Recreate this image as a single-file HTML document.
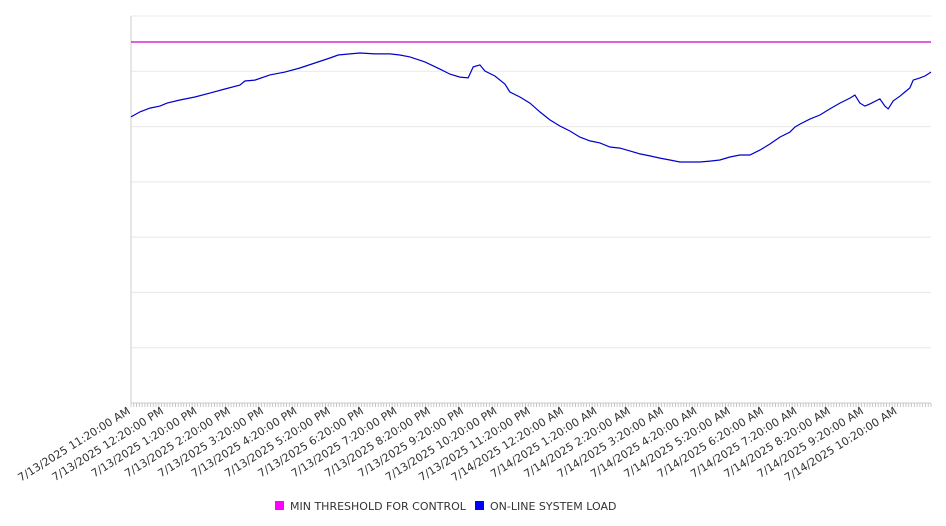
<!DOCTYPE html>
<html><head><meta charset="utf-8"><style>
html,body{margin:0;padding:0;background:#fff;width:946px;height:526px;overflow:hidden}
svg{display:block;font-family:"DejaVu Sans","Liberation Sans",sans-serif}
</style></head><body>
<svg id="chart" width="946" height="526" viewBox="0 0 946 526">
<g id="grid"></g>
<g id="xaxis"></g>
<g id="series"></g>
<g font-size="11" fill="#333">
  <g>
    <rect x="275" y="501" width="9" height="9" fill="#ff00ff"/>
    <text x="290" y="510">MIN THRESHOLD FOR CONTROL</text>
  </g>
  <g>
    <rect x="475" y="501" width="9" height="9" fill="#0000ff"/>
    <text x="490" y="510">ON-LINE SYSTEM LOAD</text>
  </g>
</g>
</svg>
<script>
const tickLabels = ["7/13/2025 11:20:00 AM","7/13/2025 12:20:00 PM","7/13/2025 1:20:00 PM","7/13/2025 2:20:00 PM","7/13/2025 3:20:00 PM","7/13/2025 4:20:00 PM","7/13/2025 5:20:00 PM","7/13/2025 6:20:00 PM","7/13/2025 7:20:00 PM","7/13/2025 8:20:00 PM","7/13/2025 9:20:00 PM","7/13/2025 10:20:00 PM","7/13/2025 11:20:00 PM","7/14/2025 12:20:00 AM","7/14/2025 1:20:00 AM","7/14/2025 2:20:00 AM","7/14/2025 3:20:00 AM","7/14/2025 4:20:00 AM","7/14/2025 5:20:00 AM","7/14/2025 6:20:00 AM","7/14/2025 7:20:00 AM","7/14/2025 8:20:00 AM","7/14/2025 9:20:00 AM","7/14/2025 10:20:00 AM"];
const loadMinutes = [0,16,34,52,65,88,115,142,169,196,205,223,250,277,304,331,358,373,394,412,439,466,484,502,529,556,574,592,607,616,628,637,655,673,682,700,718,736,754,772,790,808,826,844,862,880,898,916,934,952,970,988,1006,1024,1042,1060,1078,1096,1114,1132,1150,1168,1186,1195,1204,1222,1240,1258,1276,1294,1303,1312,1321,1330,1348,1357,1363,1372,1384,1393,1402,1408,1420,1429,1440];
const loadValues = [1035,1053,1067,1074,1085,1096,1107,1121,1136,1150,1165,1168,1187,1197,1212,1230,1248,1259,1263,1266,1263,1263,1259,1252,1234,1208,1190,1179,1176,1216,1223,1201,1183,1154,1125,1107,1085,1053,1024,1002,984,962,948,941,926,922,912,901,894,886,879,872,872,872,875,879,890,897,897,915,937,962,980,998,1009,1027,1042,1064,1085,1103,1114,1085,1074,1082,1100,1074,1064,1093,1110,1125,1140,1168,1176,1183,1197];
const thresholdValue = 1306;
const yMax = 1400, yStep = 200, xMaxMin = 1440;

const L=131,R=931,T=16,B=403, NS="http://www.w3.org/2000/svg";
const xs = m => L + m/xMaxMin*(R-L);
const ys = v => B - v/yMax*(B-T);
function mk(tag, attrs, parent){const e=document.createElementNS(NS,tag);for(const k in attrs)e.setAttribute(k,attrs[k]);parent.appendChild(e);return e;}
const grid=document.getElementById('grid'), xa=document.getElementById('xaxis'), se=document.getElementById('series');
for(let v=yStep; v<=yMax; v+=yStep){
  const g=mk('line',{x1:L,x2:R,y1:ys(v),y2:ys(v),stroke:'#e8e8e8','stroke-width':1},grid);
  
  
}
const ax=mk('line',{x1:L,x2:L,y1:T,y2:B,stroke:'#ccc','stroke-width':1},xa);


const bx=mk('line',{x1:L,x2:R,y1:B,y2:B,stroke:'#ccc','stroke-width':1},xa);


for(let m=0;m<=xMaxMin;m+=5){
  const t=mk('line',{x1:xs(m),x2:xs(m),y1:B,y2:B+4,stroke:'#bbb','stroke-width':0.8},xa);
  
  
}
tickLabels.forEach((s,i)=>{
  const x=xs(i*60), y=B+10;
  const t=mk('text',{x:x,y:y,'text-anchor':'end','font-size':11,fill:'#333',transform:`rotate(-32 ${x} ${y})`},xa);
  t.textContent=s;
  
  
});
const th=mk('line',{x1:L,x2:R,y1:ys(thresholdValue),y2:ys(thresholdValue),stroke:'#cc00cc','stroke-width':1.2},se);


const d=loadMinutes.map((m,i)=>(i?'L':'M')+xs(m).toFixed(1)+','+ys(loadValues[i]).toFixed(1)).join(' ');
const p=mk('path',{d:d,fill:'none',stroke:'#0000cc','stroke-width':1.2},se);


</script>
</body></html>
